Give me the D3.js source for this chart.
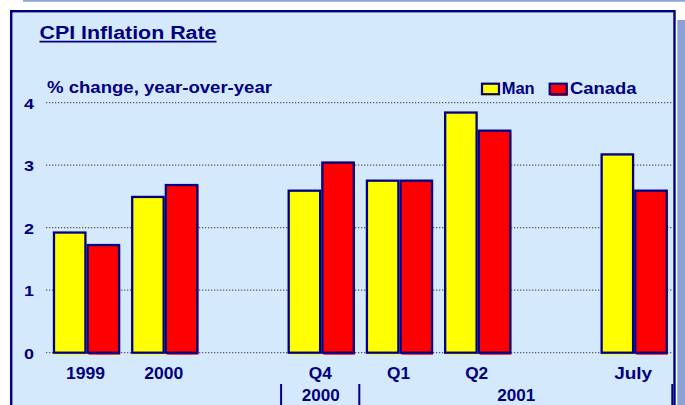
<!DOCTYPE html>
<html><head><meta charset="utf-8">
<script src="https://cdn.jsdelivr.net/npm/d3@7"></script>
<style>
html,body{margin:0;padding:0;background:#fff;}
svg{display:block;font-family:"Liberation Sans",Arial,sans-serif;font-weight:bold;}
</style></head>
<body><svg id="c" width="685" height="405"></svg>
<script>
// ---- data ----
const categories = ["1999", "2000", null, "Q4", "Q1", "Q2", null, "July"];
const manValues    = [1.94, 2.51, null, 2.61, 2.77, 3.86, null, 3.19];
const canadaValues = [1.74, 2.70, null, 3.06, 2.77, 3.57, null, 2.61];
const seriesNames = ["Man", "Canada"];
const seriesColors = ["#ffff00", "#ff0000"];
const yTicks = [0, 1, 2, 3, 4];
const yearGroups = [
  {label: "2000", from: 3, to: 3},
  {label: "2001", from: 4, to: 7}
];
const titleText = "CPI Inflation Rate";
const subtitleText = "% change, year-over-year";

const navy = "#000080";
const svg = d3.select("#c");

// background decorations
svg.append("line").attr("x1", 23).attr("x2", 685).attr("y1", 0.8).attr("y2", 0.8)
  .attr("stroke", "#8ba3d8").attr("stroke-width", 1.7);
svg.append("rect").attr("x", 677.3).attr("y", 20).attr("width", 8).attr("height", 400)
  .attr("fill", "#8aa2d6");
svg.append("rect").attr("x", 11.2).attr("y", 11.2).attr("width", 663.3).attr("height", 420)
  .attr("fill", "#d5e9fc").attr("stroke", navy).attr("stroke-width", 2.4);

// scales
const x = d3.scaleBand().domain(d3.range(categories.length)).range([47.4, 673.3]).padding(0);
const y = d3.scaleLinear().domain([0, 4]).range([352.7, 102.7]);
const groupW = x.bandwidth() * 0.86;
const x1 = d3.scaleBand().domain(seriesNames).range([0, groupW]).padding(0);

// gridlines
svg.append("g").selectAll("line").data(yTicks).join("line")
  .attr("x1", 46).attr("x2", 672)
  .attr("y1", d => y(d)).attr("y2", d => y(d))
  .attr("stroke", "#5a5a5a").attr("stroke-width", 1.2).attr("stroke-dasharray", "1.3,1.7");

// y labels
svg.append("g").selectAll("text").data(yTicks).join("text")
  .attr("x", 34).attr("y", d => y(d) + 6.2)
  .attr("text-anchor", "end").attr("font-size", 15.5).attr("fill", navy)
  .attr("textLength", 10).attr("lengthAdjust", "spacingAndGlyphs")
  .text(d => d);

// bars
const rows = [];
categories.forEach((c, i) => {
  if (c === null) return;
  [manValues[i], canadaValues[i]].forEach((v, s) => rows.push({i, s, v}));
});
const bx = d => x(d.i) + (x.bandwidth() - groupW) / 2 + x1(seriesNames[d.s]);
const bw = x1.bandwidth();
const bars = svg.append("g");
bars.selectAll("rect.sh").data(rows).join("rect").attr("class", "sh")
  .attr("x", d => bx(d) + 2).attr("y", d => y(d.v) + 2)
  .attr("width", bw - 2).attr("height", d => y(0) - y(d.v))
  .attr("fill", d => seriesColors[d.s]);
bars.selectAll("rect.b").data(rows).join("rect").attr("class", "b")
  .attr("x", d => bx(d) + 1.1).attr("y", d => y(d.v) + 1.1)
  .attr("width", bw - 2.2).attr("height", d => y(0) - y(d.v) - 1.1)
  .attr("fill", d => seriesColors[d.s]).attr("stroke", navy).attr("stroke-width", 2.3);

// x labels
svg.append("g").selectAll("text").data(categories.map((c, i) => ({c, i})).filter(d => d.c !== null))
  .join("text")
  .attr("x", d => x(d.i) + x.bandwidth() / 2 - 1).attr("y", 378.6)
  .attr("text-anchor", "middle").attr("font-size", 16).attr("fill", navy)
  .attr("textLength", d => d.c.length === 2 ? 23 : (d.c === "July" ? 38 : 39))
  .attr("lengthAdjust", "spacingAndGlyphs")
  .text(d => d.c);

// year group separators and labels
const seps = [];
yearGroups.forEach(g => { seps.push(x(g.from)); seps.push(x(g.to) + x.bandwidth()); });
svg.append("g").selectAll("line").data(Array.from(new Set(seps.map(v => Math.round(v * 10) / 10))))
  .join("line")
  .attr("x1", d => d - 1).attr("x2", d => d - 1).attr("y1", 384).attr("y2", 405)
  .attr("stroke", navy).attr("stroke-width", 2);
svg.append("g").selectAll("text").data(yearGroups).join("text")
  .attr("x", d => (x(d.from) + x(d.to) + x.bandwidth()) / 2 - 0.5).attr("y", 400.7)
  .attr("text-anchor", "middle").attr("font-size", 16).attr("fill", navy)
  .attr("textLength", 38).attr("lengthAdjust", "spacingAndGlyphs")
  .text(d => d.label);

// title
svg.append("text").attr("x", 39.5).attr("y", 38.5)
  .attr("font-size", 17.5).attr("fill", navy)
  .attr("textLength", 177).attr("lengthAdjust", "spacingAndGlyphs")
  .text(titleText);
svg.append("line").attr("x1", 39.5).attr("x2", 216.5).attr("y1", 41.7).attr("y2", 41.7)
  .attr("stroke", navy).attr("stroke-width", 1.8);

// subtitle
svg.append("text").attr("x", 47).attr("y", 92.7)
  .attr("font-size", 16).attr("fill", navy)
  .attr("textLength", 225).attr("lengthAdjust", "spacingAndGlyphs")
  .text(subtitleText);

// legend
const legend = [
  {name: seriesNames[0], color: seriesColors[0], sx: 481, tx: 501.7, tw: 33},
  {name: seriesNames[1], color: seriesColors[1], sx: 548.7, tx: 570, tw: 66.5}
];
const lg = svg.append("g");
legend.forEach(l => {
  lg.append("rect").attr("x", l.sx + 2).attr("y", 84.5).attr("width", 17).attr("height", 11.5).attr("fill", l.color);
  lg.append("rect").attr("x", l.sx + 1).attr("y", 83.7).attr("width", 17).attr("height", 10.5)
    .attr("fill", l.color).attr("stroke", navy).attr("stroke-width", 2.2);
  lg.append("text").attr("x", l.tx).attr("y", 94.4).attr("font-size", 16).attr("fill", navy)
    .attr("textLength", l.tw).attr("lengthAdjust", "spacingAndGlyphs").text(l.name);
});
</script></body></html>
